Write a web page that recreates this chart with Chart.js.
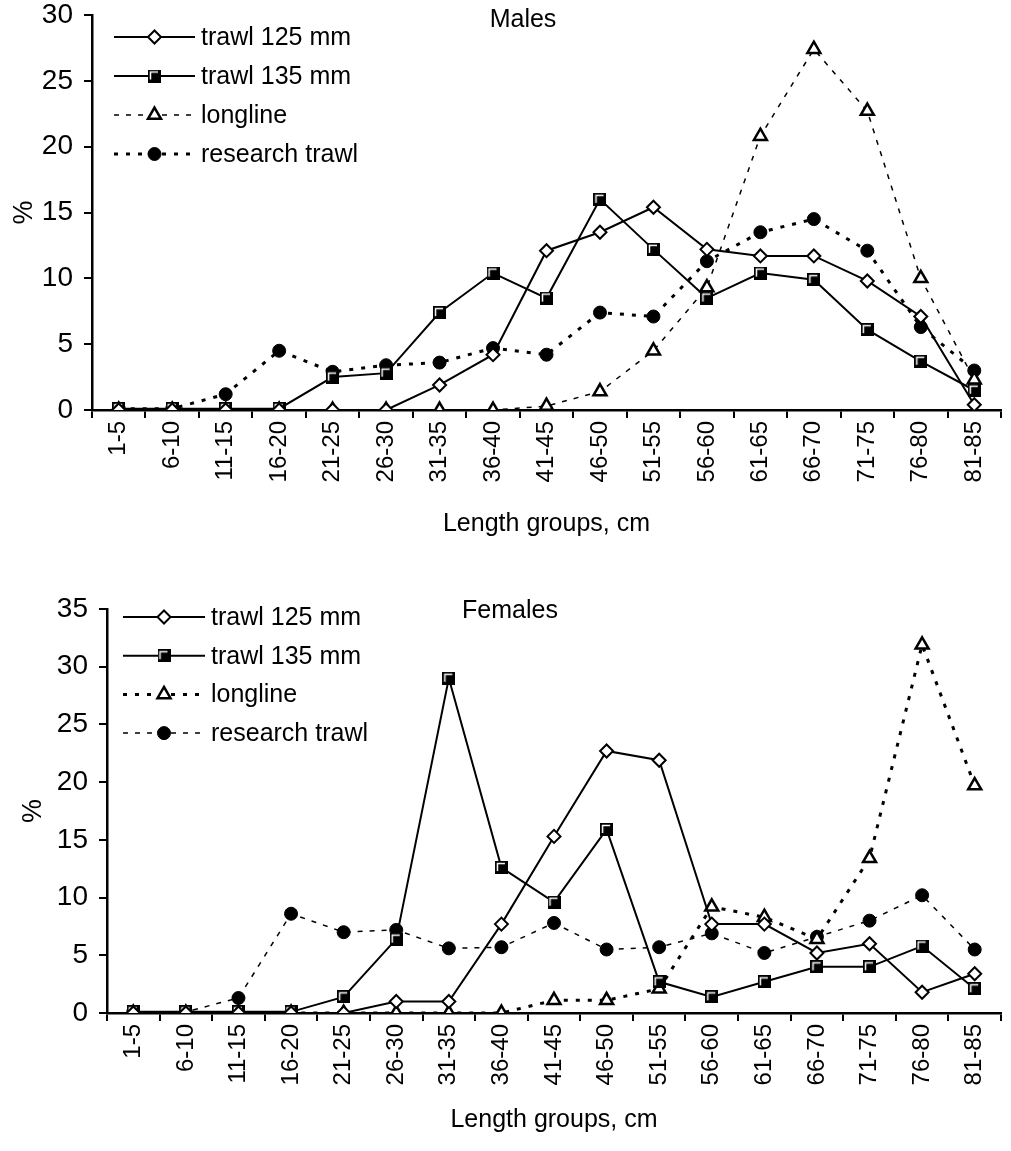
<!DOCTYPE html>
<html>
<head>
<meta charset="utf-8">
<script src="https://cdn.jsdelivr.net/npm/chart.js@4.4.1/dist/chart.umd.min.js"></script>
<style>
    html, body { margin: 0; padding: 0; background: #fff; }
    #cajaMachos { position: absolute; left: 0; top: 0; width: 1011px; height: 545px; }
    #cajaHembras { position: absolute; left: 0; top: 545px; width: 1011px; height: 606px; }
</style>
</head>
<body>
<div id="cajaMachos"><canvas id="graficoMachos"></canvas></div>
<div id="cajaHembras"><canvas id="graficoHembras"></canvas></div>
<script>
// Datos
const lengthGroups = ['1-5', '6-10', '11-15', '16-20', '21-25', '26-30', '31-35', '36-40', '41-45',
    '46-50', '51-55', '56-60', '61-65', '66-70', '71-75', '76-80', '81-85'];
const seriesNames = ['trawl 125 mm', 'trawl 135 mm', 'longline', 'research trawl'];

// Males
const maleTrawl125 = [0, 0, 0, 0, 0, 0, 1.9, 4.2, 12.1, 13.5, 15.4, 12.2, 11.7, 11.7, 9.8, 7.1, 0.4];
const maleTrawl135 = [0.1, 0.1, 0.1, 0.1, 2.5, 2.8, 7.4, 10.4, 8.5, 16.0, 12.2, 8.5, 10.4, 9.9, 6.1, 3.7, 1.5];
const maleLongline = [0, 0, 0, 0, 0, 0, 0, 0, 0.3, 1.4, 4.5, 9.3, 20.8, 27.4, 22.7, 10.0, 2.3];
const maleResearch = [0.1, 0.1, 1.2, 4.5, 2.9, 3.4, 3.6, 4.7, 4.2, 7.4, 7.1, 11.3, 13.5, 14.5, 12.1, 6.3, 3.0];

// Females
const femaleTrawl125 = [0, 0, 0, 0, 0, 1.0, 1.0, 7.7, 15.3, 22.7, 21.9, 7.7, 7.7, 5.2, 6.0, 1.8, 3.4];
const femaleTrawl135 = [0.1, 0.1, 0.1, 0.1, 1.4, 6.4, 29.0, 12.6, 9.6, 15.9, 2.7, 1.4, 2.7, 4.0, 4.0, 5.8, 2.1];
const femaleLongline = [0, 0, 0, 0, 0, 0, 0, 0, 1.1, 1.1, 2.1, 9.2, 8.3, 6.4, 13.4, 31.9, 19.7];
const femaleResearch = [0.1, 0.1, 1.3, 8.6, 7.0, 7.2, 5.6, 5.7, 7.8, 5.5, 5.7, 6.9, 5.2, 6.6, 8.0, 10.2, 5.5];

Chart.defaults.font.family = '"Liberation Sans", Arial, sans-serif';
Chart.defaults.color = '#000';

// Cuadrado negro con brillo blanco (estilo Excel)
function crearCuadrado() {
    const c = document.createElement('canvas');
    c.width = 13; c.height = 13;
    const g = c.getContext('2d');
    g.fillStyle = '#000';
    g.fillRect(0, 0, 13, 13);
    g.strokeStyle = '#fff';
    g.lineWidth = 1.5;
    g.beginPath();
    g.moveTo(2.5, 10); g.lineTo(2.5, 2.5); g.lineTo(10, 2.5);
    g.stroke();
    return c;
}
const marcaCuadrado = crearCuadrado();

function crearSeries(valores, estiloLongline, estiloResearch) {
    return [
        { label: seriesNames[0], data: valores[0], borderColor: '#000', borderWidth: 2,
          pointStyle: 'rectRot', pointRadius: 6.5, pointBackgroundColor: '#fff', pointBorderColor: '#000', pointBorderWidth: 2 },
        { label: seriesNames[1], data: valores[1], borderColor: '#000', borderWidth: 2,
          pointStyle: marcaCuadrado, pointRadius: 6.5, pointBackgroundColor: '#000', pointBorderColor: '#000', pointBorderWidth: 1 },
        { label: seriesNames[2], data: valores[2], borderColor: '#000', borderWidth: estiloLongline.w, borderDash: estiloLongline.dash,
          pointStyle: 'triangle', pointRadius: 7.5, pointBackgroundColor: '#fff', pointBorderColor: '#000', pointBorderWidth: 2.5 },
        { label: seriesNames[3], data: valores[3], borderColor: '#000', borderWidth: estiloResearch.w, borderDash: estiloResearch.dash,
          pointStyle: 'circle', pointRadius: 6.5, pointBackgroundColor: '#000', pointBorderColor: '#000', pointBorderWidth: 1 }
    ];
}

// Leyenda y titulo dentro del area de dibujo
const leyendaInterna = {
    id: 'leyendaInterna',
    afterDatasetsDraw(chart, args, opts) {
        const ctx = chart.ctx;
        ctx.save();
        chart.data.datasets.forEach((ds, i) => {
            const y = opts.y + i * opts.gap;
            ctx.strokeStyle = '#000';
            ctx.lineWidth = ds.borderWidth;
            ctx.setLineDash(ds.borderDash || []);
            ctx.beginPath();
            ctx.moveTo(opts.x, y);
            ctx.lineTo(opts.x + opts.w, y);
            ctx.stroke();
            ctx.setLineDash([]);
            ctx.fillStyle = ds.pointBackgroundColor;
            ctx.strokeStyle = ds.pointBorderColor;
            ctx.lineWidth = ds.pointBorderWidth;
            Chart.helpers.drawPoint(ctx, { pointStyle: ds.pointStyle, radius: ds.pointRadius, rotation: 0, borderWidth: ds.pointBorderWidth }, opts.x + opts.w / 2, y);
            ctx.fillStyle = '#000';
            ctx.font = '25px "Liberation Sans", Arial, sans-serif';
            ctx.textBaseline = 'middle';
            ctx.textAlign = 'left';
            ctx.fillText(ds.label, opts.x + opts.w + 6, y + 1);
        });
        ctx.font = '25px "Liberation Sans", Arial, sans-serif';
        ctx.textAlign = 'center';
        ctx.textBaseline = 'alphabetic';
        ctx.fillText(opts.titulo, opts.tx, opts.ty);
        ctx.restore();
    }
};

function opcionesGrafico(yMax, anchoY, altoX, padArriba, padTituloX, padTituloY, leyenda) {
    return {
        responsive: true,
        maintainAspectRatio: false,
        animation: false,
        layout: { padding: { top: padArriba, right: 0, left: 0, bottom: 0 } },
        plugins: {
            legend: { display: false },
            tooltip: { enabled: false },
            leyendaInterna: leyenda
        },
        scales: {
            x: {
                type: 'category',
                offset: true,
                grid: { offset: true, drawOnChartArea: false, tickLength: 8, color: '#000', lineWidth: 2 },
                border: { color: '#000', width: 2.5 },
                ticks: { minRotation: 90, maxRotation: 90, autoSkip: false, padding: 3, font: { size: 24 } },
                title: { display: true, text: 'Length groups, cm', font: { size: 25 }, padding: { top: 4, bottom: padTituloX } },
                afterFit: (s) => { s.height = altoX; }
            },
            y: {
                min: 0, max: yMax,
                grid: { drawOnChartArea: false, tickLength: 8, color: '#000', lineWidth: 2 },
                border: { color: '#000', width: 2.5 },
                ticks: { stepSize: 5, padding: 11, font: { size: 28 } },
                title: { display: true, text: '%', font: { size: 27 }, padding: { top: padTituloY, bottom: 0 } },
                afterFit: (s) => { s.width = anchoY; s.paddingTop = 0; s.paddingBottom = 0; }
            }
        }
    };
}

new Chart(document.getElementById('graficoMachos').getContext('2d'), {
    type: 'line',
    data: {
        labels: lengthGroups,
        datasets: crearSeries([maleTrawl125, maleTrawl135, maleLongline, maleResearch],
            { w: 1.5, dash: [5, 7] }, { w: 3, dash: [4, 8] })
    },
    options: opcionesGrafico(30, 92, 135, 15, 6, 8,
        { x: 114, y: 37, gap: 39, w: 81, titulo: 'Males', tx: 523, ty: 27 }),
    plugins: [leyendaInterna]
});

new Chart(document.getElementById('graficoHembras').getContext('2d'), {
    type: 'line',
    data: {
        labels: lengthGroups,
        datasets: crearSeries([femaleTrawl125, femaleTrawl135, femaleLongline, femaleResearch],
            { w: 3, dash: [4, 8] }, { w: 1.5, dash: [5, 7] })
    },
    options: opcionesGrafico(35, 107, 138, 64, 16, 17,
        { x: 123, y: 72, gap: 38.7, w: 82, titulo: 'Females', tx: 510, ty: 73 }),
    plugins: [leyendaInterna]
});
</script>
</body>
</html>
